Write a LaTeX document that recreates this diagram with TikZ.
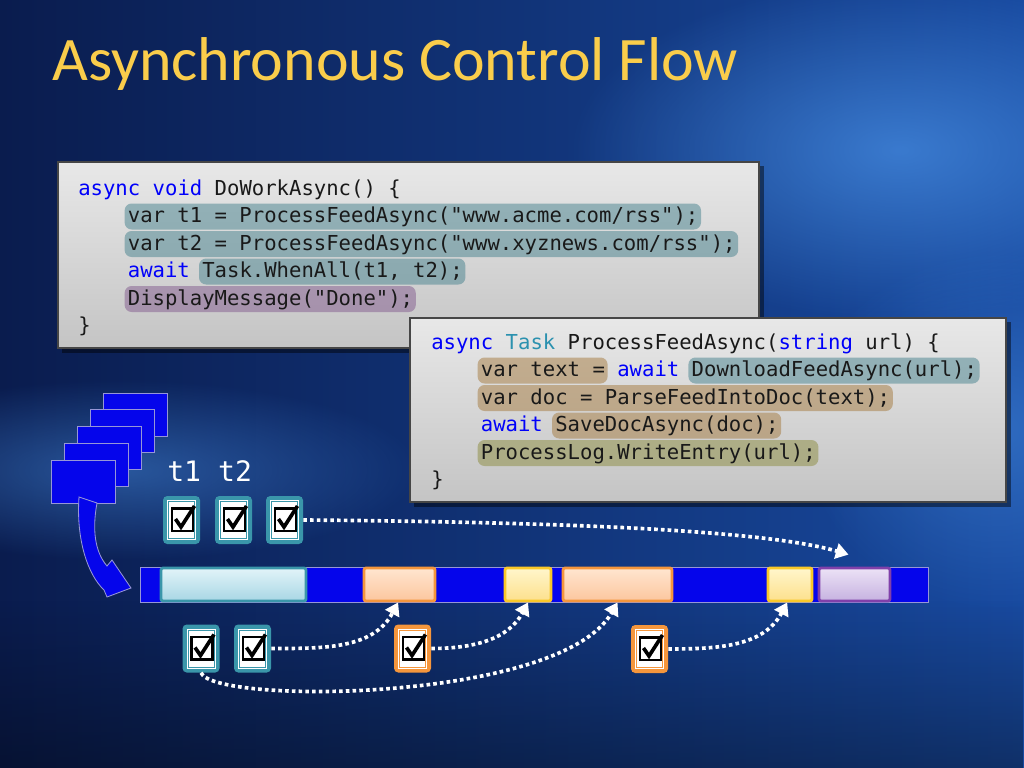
\documentclass[tikz,border=0pt]{standalone}
\usepackage{fontspec}
\setmainfont{Carlito}
\newfontfamily\codefont{DejaVu Sans Mono}
\usetikzlibrary{arrows.meta,fit,fadings}

\definecolor{bgdark}{RGB}{10,28,78}
\definecolor{bglight}{RGB}{24,74,160}
\definecolor{bgglow}{RGB}{70,140,225}
\definecolor{titlegold}{RGB}{250,205,75}
\definecolor{codeblack}{RGB}{25,25,25}
\definecolor{kwblue}{RGB}{0,0,250}
\definecolor{typeteal}{RGB}{43,145,175}
\definecolor{boxtop}{RGB}{232,232,232}
\definecolor{boxbot}{RGB}{196,196,196}
\definecolor{boxline}{RGB}{70,70,70}
\definecolor{glowteal}{RGB}{70,130,142}
\definecolor{glowpurple}{RGB}{130,90,142}
\definecolor{glowbrown}{RGB}{165,122,62}
\definecolor{glowolive}{RGB}{140,140,62}
\definecolor{barblue}{RGB}{5,5,235}
\definecolor{barline}{RGB}{150,150,215}
\definecolor{tealc}{RGB}{58,150,170}
\definecolor{orangec}{RGB}{245,150,60}
\definecolor{goldc}{RGB}{250,200,40}
\definecolor{purplec}{RGB}{128,64,170}

\tikzfading[name=softglow, inner color=transparent!0, outer color=transparent!100]

\newcommand\kw[1]{\textcolor{kwblue}{#1}}
\newcommand\ty[1]{\textcolor{typeteal}{#1}}
\newcommand\glowspan[5]{\fill[#1, fill opacity=0.5, rounded corners=5pt] ({#2+#4*12.4-3},{#3-19}) rectangle ({#2+#5*12.4+3},{#3+7});}
\newcommand\checktile[4]{%
  \node[tile, fill=#2, fit={({#3-18.5},{#4-24}) ({#3+18.5},{#4+24})}] (#1) {};
  \fill[white] ({#3-14.5},{#4-20}) rectangle ({#3+14.5},{#4+20});
  \draw[#2, line width=0.6pt] ({#3-13},{#4-18.5}) rectangle ({#3+13},{#4+18.5});
  \draw[black, line width=2pt] ({#3-9.5},{#4-11.5}) rectangle ({#3+11.5},{#4+11});
  \draw[black, line width=2.6pt, line join=miter] ({#3-6},{#4-1}) -- ({#3-0.5},{#4+7}) -- ({#3+13},{#4-14});}

\begin{document}
\begin{tikzpicture}[x=0.025cm, y=-0.025cm,
    code/.style={font=\codefont\fontsize{14.65pt}{17pt}\selectfont, text=codeblack, anchor=base west},
    codebox/.style={top color=boxtop, bottom color=boxbot, draw=boxline, line width=1.2pt},
    tile/.style={rounded corners=3pt},
    seg/.style={line width=2pt, rounded corners=1.5pt},
    stack/.style={fill=barblue, draw=barline, line width=0.6pt},
    flow/.style={white, line width=2.6pt, dash pattern=on 2.6pt off 2.2pt, -{Triangle[width=11pt,length=9pt]}}]
    \tikzstyle{every node}+=[inner sep=0pt]
    \useasboundingbox (0,0) rectangle (1024,768);
    \fill[left color=bgdark, right color=bglight] (0,0) rectangle (1024,768);
    \fill[bgglow, path fading=softglow, fill opacity=0.75] (900,150) ellipse (330 and 170);
    \fill[bgglow, path fading=softglow, fill opacity=0.5] (120,470) ellipse (300 and 90);
    \fill[bgglow, path fading=softglow, fill opacity=0.5] (1000,430) ellipse (200 and 180);
    \fill[black, path fading=north, fill opacity=0.35] (0,600) rectangle (1024,768);
    \node[font=\fontsize{44pt}{50pt}\selectfont, text=titlegold, anchor=base west] (title) at (52,81) {Asynchronous Control Flow};

    \fill[black, opacity=0.45] (62,166) rectangle (764,353);
    \node[codebox, fit={(58,162) (759,348)}] (work) {};
    \glowspan{glowteal}{78}{222.5}{4}{50}
    \glowspan{glowteal}{78}{250}{4}{53}
    \glowspan{glowteal}{78}{277.5}{10}{31}
    \glowspan{glowpurple}{78}{305}{4}{27}
    \node[code] (w1) at (78,195) {\kw{async} \kw{void} DoWorkAsync() \{};
    \node[code] (w2) at (127.6,222.5) {var t1 = ProcessFeedAsync("www.acme.com/rss");};
    \node[code] (w3) at (127.6,250) {var t2 = ProcessFeedAsync("www.xyznews.com/rss");};
    \node[code] (w4) at (127.6,277.5) {\kw{await} Task.WhenAll(t1, t2);};
    \node[code] (w5) at (127.6,305) {DisplayMessage("Done");};
    \node[code] (w6) at (78,332.5) {\}};

    \fill[black, opacity=0.45] (414,322) rectangle (1011,507);
    \node[codebox, fit={(410,318) (1006,502)}] (feed) {};
    \glowspan{glowbrown}{431}{376.5}{4}{14}
    \glowspan{glowteal}{431}{376.5}{21}{44}
    \glowspan{glowbrown}{431}{404}{4}{37}
    \glowspan{glowbrown}{431}{431.5}{10}{28}
    \glowspan{glowolive}{431}{459}{4}{31}
    \node[code] (f1) at (431,349) {\kw{async} \ty{Task} ProcessFeedAsync(\kw{string} url) \{};
    \node[code] (f2) at (480.6,376.5) {var text = \kw{await} DownloadFeedAsync(url);};
    \node[code] (f3) at (480.6,404) {var doc = ParseFeedIntoDoc(text);};
    \node[code] (f4) at (480.6,431.5) {\kw{await} SaveDocAsync(doc);};
    \node[code] (f5) at (480.6,459) {ProcessLog.WriteEntry(url);};
    \node[code] (f6) at (431,486.5) {\}};

    \foreach \i in {4,3,2,1,0}
        \draw[stack] ({51+13*\i},{460-16.7*\i}) rectangle ++(64,43);
    \draw[stack] (79,497) -- (97,503) .. controls (92,530) and (95,552) .. (107,566) -- (112,560) -- (131,588) -- (107,597) -- (104,590) .. controls (88,575) and (76,540) .. (79,497) -- cycle;

    \node[font=\codefont\fontsize{20pt}{24pt}\selectfont, text=white, anchor=base west] (tasks) at (167,481) {t1 t2};

    \checktile{ta}{tealc}{181.5}{520}
    \checktile{tb}{tealc}{233.5}{520}
    \checktile{tc}{tealc}{284.5}{520}
    \checktile{ba}{tealc}{201}{648.5}
    \checktile{bb}{tealc}{252.5}{648.5}
    \checktile{bc}{orangec}{412.5}{648.5}
    \checktile{bd}{orangec}{649.5}{649}

    \node[fill=barblue, draw=barline, line width=0.6pt, fit={(140,567) (928,602)}] (bar) {};
    \node[seg, draw=tealc, top color={rgb,255:red,226;green,244;blue,249}, bottom color={rgb,255:red,168;green,214;blue,228}, fit={(161,568) (306,601)}] (sa) {};
    \node[seg, draw=orangec, top color={rgb,255:red,255;green,230;blue,208}, bottom color={rgb,255:red,252;green,198;blue,158}, fit={(364,568) (435,601)}] (sb) {};
    \node[seg, draw=goldc, top color={rgb,255:red,255;green,246;blue,204}, bottom color={rgb,255:red,253;green,224;blue,140}, fit={(505,568) (551,601)}] (sc) {};
    \node[seg, draw=orangec, top color={rgb,255:red,255;green,230;blue,208}, bottom color={rgb,255:red,252;green,198;blue,158}, fit={(563,568) (672,601)}] (sd) {};
    \node[seg, draw=goldc, top color={rgb,255:red,255;green,246;blue,204}, bottom color={rgb,255:red,253;green,224;blue,140}, fit={(768,568) (812,601)}] (se) {};
    \node[seg, draw=purplec, top color={rgb,255:red,236;green,226;blue,246}, bottom color={rgb,255:red,198;green,178;blue,224}, fit={(819,568) (890,601)}] (sf) {};
    \coordinate (sfin) at ([shift={(-6,-12)}]sf.north);

    \draw[flow] (tc.east) .. controls +(250,2) and +(-85,-25) .. (sfin);
    \draw[flow] (bb.east) to[out=0, in=-118] ([xshift=-1pt]sb.south);
    \draw[flow] (bc.east) to[out=0, in=-118] (sc.south);
    \draw[flow] (ba.south) .. controls +(13,32) and +(-57,100) .. (sd.south);
    \draw[flow] (bd.east) to[out=0, in=-118] ([xshift=-2pt]se.south);
\end{tikzpicture}
\end{document}
